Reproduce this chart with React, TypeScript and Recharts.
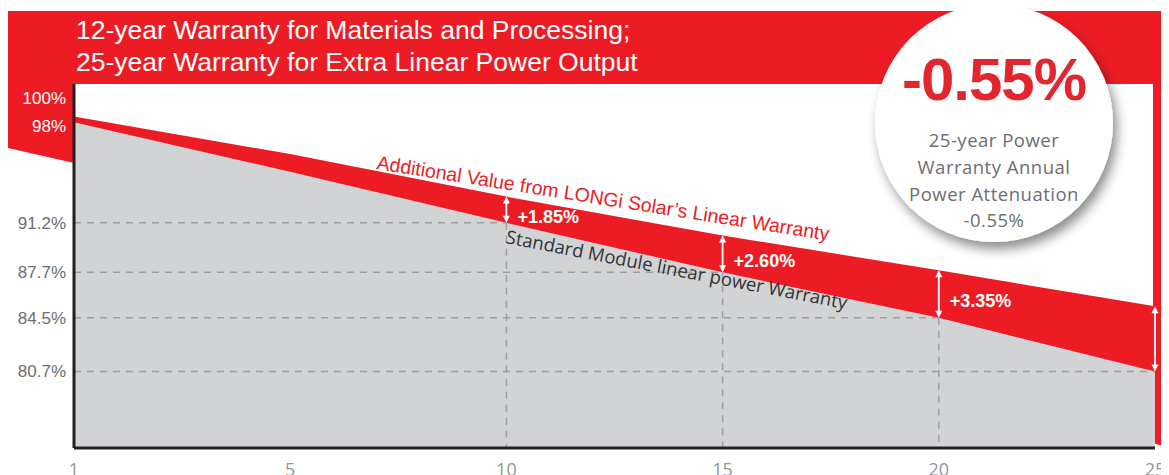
import React from 'react';
import { AreaChart, Area, XAxis, YAxis, ReferenceLine } from 'recharts';

// Warranty curves, one value per labelled year on the horizontal axis
const years = ['1', '5', '10', '15', '20', '25'];
const standardWarranty = [98.3, 94.8, 91.2, 87.7, 84.5, 80.7];
const longiWarranty = [98.7, 96.05, 93.05, 90.3, 87.85, 85.3];
const gainLabels = ['', '', '+1.85%', '+2.60%', '+3.35%', ''];
const arrowYears = ['10', '15', '20', '25'];
const gridYears = ['10', '15', '20', '25'];
const dropYears = ['10', '15', '20'];
const yTicks = [80.7, 84.5, 87.7, 91.2, 98, 100];
const yDomain = [75.3, 101.0];

const RED = '#ed1c24';
const GREY_FILL = '#d1d3d4';
const GRID = '#9d9fa2';
const AXIS = '#231f20';

const data = years.map((year, i) => ({
  year,
  standard: standardWarranty[i],
  longi: longiWarranty[i],
}));

const valueAt = (series: number[], year: string) => series[years.indexOf(year)];

const YTick = (props: any) => {
  const { x, y, payload } = props;
  const v = payload.value as number;
  return (
    <text
      x={x}
      y={y}
      dy="0.35em"
      textAnchor="end"
      fontFamily="'Liberation Sans', Arial, sans-serif"
      fontSize={17}
      fill={v >= 98 ? '#ffffff' : '#6d6e71'}
    >
      {`${v}%`}
    </text>
  );
};

const XTick = (props: any) => {
  const { x, y, payload } = props;
  return (
    <text
      x={x}
      y={y + 28}
      textAnchor="middle"
      fontFamily="'Open Sans', sans-serif"
      fontSize={18}
      fill="#939598"
    >
      {payload.value}
    </text>
  );
};

const GainArrow = (props: any) => {
  const { x1, y1, x2, y2, text } = props;
  if ([x1, y1, x2, y2].some((v) => typeof v !== 'number' || Number.isNaN(v))) return <g />;
  const x = x1;
  const bottom = Math.max(y1, y2);
  const top = Math.min(y1, y2);
  const head = 7;
  const half = 3.5;
  return (
    <g>
      <line x1={x} y1={top + head - 1} x2={x} y2={bottom - head + 1} stroke="#ffffff" strokeWidth={1.8} />
      <polygon points={`${x},${top} ${x - half},${top + head} ${x + half},${top + head}`} fill="#ffffff" />
      <polygon points={`${x},${bottom} ${x - half},${bottom - head} ${x + half},${bottom - head}`} fill="#ffffff" />
      {text ? (
        <text
          x={x + 11}
          y={(top + bottom) / 2 + 7}
          dy="0.35em"
          fontFamily="'Liberation Sans', Arial, sans-serif"
          fontWeight={700}
          fontSize={18}
          fill="#ffffff"
        >
          {text}
        </text>
      ) : null}
    </g>
  );
};

export default function App() {
  return (
    <div style={{ position: 'relative', width: 1161, height: 467, overflow: 'hidden' }}>
      <style>{'.recharts-surface{overflow:visible}'}</style>
      {/* red banner, left wedge and right edge strip */}
      <svg
        width={1169}
        height={475}
        style={{ position: 'absolute', left: -8, top: -8 }}
      >
        <rect x={8} y={11} width={1161} height={73} fill={RED} />
        <polygon points="8,84 74,84 74,163 8,148" fill={RED} />
        <polygon points="1153,84 1169,84 1169,448 1153,443" fill={RED} />
      </svg>

      <div style={{ position: 'absolute', left: 0, top: 0 }}>
        <AreaChart
          width={1161}
          height={467}
          data={data}
          margin={{ top: 76, right: 14, bottom: 0, left: 0 }}
        >
          <Area
            type="linear"
            dataKey="longi"
            stroke="none"
            fill={RED}
            fillOpacity={1}
            isAnimationActive={false}
          />
          <Area
            type="linear"
            dataKey="standard"
            stroke="none"
            fill={GREY_FILL}
            fillOpacity={1}
            isAnimationActive={false}
          />
          {gridYears.map((yr) => (
            <ReferenceLine
              key={`h-${yr}`}
              segment={[
                { x: years[0], y: valueAt(standardWarranty, yr) },
                { x: yr, y: valueAt(standardWarranty, yr) },
              ]}
              stroke={GRID}
              strokeWidth={1.5}
              strokeDasharray="7 6"
            />
          ))}
          {dropYears.map((yr) => (
            <ReferenceLine
              key={`v-${yr}`}
              segment={[
                { x: yr, y: valueAt(standardWarranty, yr) },
                { x: yr, y: yDomain[0] },
              ]}
              stroke={GRID}
              strokeWidth={1.5}
              strokeDasharray="7 6"
            />
          ))}
          {arrowYears.map((yr) => (
            <ReferenceLine
              key={`a-${yr}`}
              segment={[
                { x: yr, y: valueAt(standardWarranty, yr) },
                { x: yr, y: valueAt(longiWarranty, yr) },
              ]}
              shape={(p: any) => <GainArrow {...p} text={gainLabels[years.indexOf(yr)]} />}
            />
          ))}
          <XAxis
            dataKey="year"
            type="category"
            height={27}
            tickLine={false}
            tickSize={0}
            tickMargin={0}
            axisLine={{ stroke: AXIS, strokeWidth: 3 }}
            tick={<XTick />}
            interval={0}
          />
          <YAxis
            type="number"
            domain={yDomain}
            ticks={yTicks}
            interval={0}
            allowDataOverflow
            width={66}
            tickLine={false}
            tickSize={0}
            tickMargin={8}
            axisLine={{ stroke: AXIS, strokeWidth: 3 }}
            tick={<YTick />}
          />
        </AreaChart>
      </div>

      {/* headline, badge and band captions */}
      <svg
        width={1169}
        height={475}
        style={{ position: 'absolute', left: -8, top: -8, pointerEvents: 'none' }}
      >
        <defs>
          <filter id="badgeShadow" x="-20%" y="-20%" width="150%" height="150%">
            <feDropShadow dx={4} dy={7} stdDeviation={6} floodColor="#000000" floodOpacity={0.45} />
          </filter>
        </defs>
        <g fontFamily="'Liberation Sans', Arial, sans-serif" fontSize={26.5} fill="#ffffff">
          <text x={76} y={39}>12-year Warranty for Materials and Processing;</text>
          <text x={76} y={71}>25-year Warranty for Extra Linear Power Output</text>
        </g>
        <circle cx={994} cy={123} r={119} fill="#ffffff" filter="url(#badgeShadow)" />
        <text
          x={994}
          y={100}
          textAnchor="middle"
          fontFamily="'Liberation Sans', Arial, sans-serif"
          fontWeight={700}
          fontSize={60}
          letterSpacing={-1}
          fill="#e1272d"
        >
          -0.55%
        </text>
        <g
          fontFamily="'Open Sans', sans-serif"
          fontSize={18.5}
          letterSpacing={0.5}
          fill="#6d6e71"
          textAnchor="middle"
        >
          <text x={994} y={147}>25-year Power</text>
          <text x={994} y={174}>Warranty Annual</text>
          <text x={994} y={201}>Power Attenuation</text>
          <text x={994} y={227}>-0.55%</text>
        </g>
        <text
          x={376}
          y={169}
          transform="rotate(9 376 169)"
          fontFamily="'Liberation Sans', Arial, sans-serif"
          fontSize={19.5}
          fill={RED}
        >
          Additional Value from LONGi Solar’s Linear Warranty
        </text>
        <text
          x={505}
          y={243}
          transform="rotate(11 505 243)"
          fontFamily="'Open Sans', sans-serif"
          fontSize={18.5}
          fill="#333333"
        >
          Standard Module linear power Warranty
        </text>
      </svg>
    </div>
  );
}
